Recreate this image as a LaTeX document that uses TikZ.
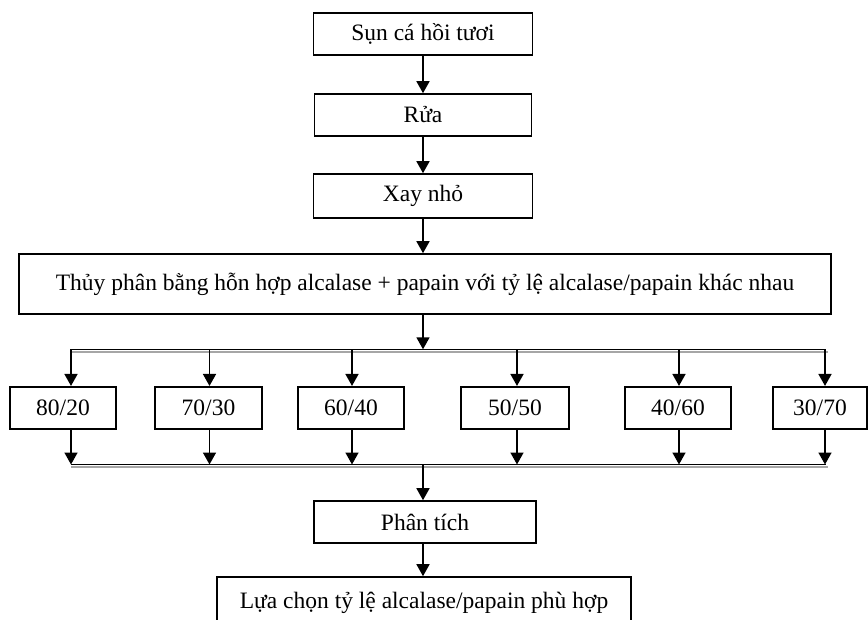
\documentclass[tikz,border=0pt]{standalone}
\usepackage{fontspec}
\setmainfont{Liberation Serif}
\usetikzlibrary{arrows.meta}
\begin{document}
\begin{tikzpicture}[x=1pt,y=-1pt,
 box/.style={draw,line width=1.6pt,inner sep=0pt,font=\fontsize{23.5}{28}\selectfont},
 rbox/.style={box,minimum width=106pt,minimum height=42.5pt},
 arr/.style={line width=1.6pt,-{Triangle[width=13pt,length=12pt]}},
 bus/.style={line width=1.5pt},
 busshade/.style={line width=2.5pt,black!35}]
\useasboundingbox (0,0) rectangle (868,620);
\node[box,minimum width=219pt,minimum height=42pt] (s1) at (423,34) {Sụn cá hồi tươi};
\node[box,minimum width=217pt,minimum height=42pt] (s2) at (423,115) {Rửa};
\node[box,minimum width=219pt,minimum height=44pt] (s3) at (423,196) {Xay nhỏ};
\node[box,minimum width=812pt,minimum height=60pt] (s4) at (425,284) {Thủy phân bằng hỗn hợp alcalase + papain với tỷ lệ alcalase/papain khác nhau};
\draw[arr] (s1) -- (s2);
\draw[arr] (s2) -- (s3);
\draw[arr] (s3.south) -- (s3.south |- s4.north);
% buses
\coordinate (tc) at (423,349.3);
\coordinate (bc) at (423,464.5);
\draw[busshade] (71,352) -- (828,352);
\draw[busshade] (71,467.2) -- (828,467.2);
\draw[bus] (71,349.3) coordinate (tl) -- (825,349.3) coordinate (tr);
\draw[bus] (71,464.5) coordinate (bl) -- (826,464.5) coordinate (br);
\draw[arr] (s4.south -| tc) -- (tc);
% ratio boxes
\node[rbox] (r1) at (63,408) {80/20};
\node[rbox,minimum width=107pt] (r2) at (208.5,408) {70/30};
\node[rbox] (r3) at (351,408) {60/40};
\node[rbox,minimum width=108pt] (r4) at (515,408) {50/50};
\node[rbox] (r5) at (678,408) {40/60};
\node[rbox,minimum width=94pt] (r6) at (820,408) {30/70};
\foreach \i/\x in {1/71,2/209.5,3/352,4/517,5/679,6/825}{
  \coordinate (ta\i) at (\x,349.3);
  \coordinate (ba\i) at (\x,464.5);
  \draw[arr] (ta\i) -- (ta\i |- r\i.north);
  \draw[arr] (ba\i |- r\i.south) -- (ba\i);
}
\node[box,minimum width=222pt,minimum height=42pt] (p) at (425,522) {Phân tích};
\node[box,minimum width=414pt,minimum height=51pt] (f) at (424,602.5) {Lựa chọn tỷ lệ alcalase/papain phù hợp};
\draw[arr] (bc) -- (bc |- p.north);
\draw[arr] (p.south -| bc) -- (bc |- f.north);
\end{tikzpicture}
\end{document}
